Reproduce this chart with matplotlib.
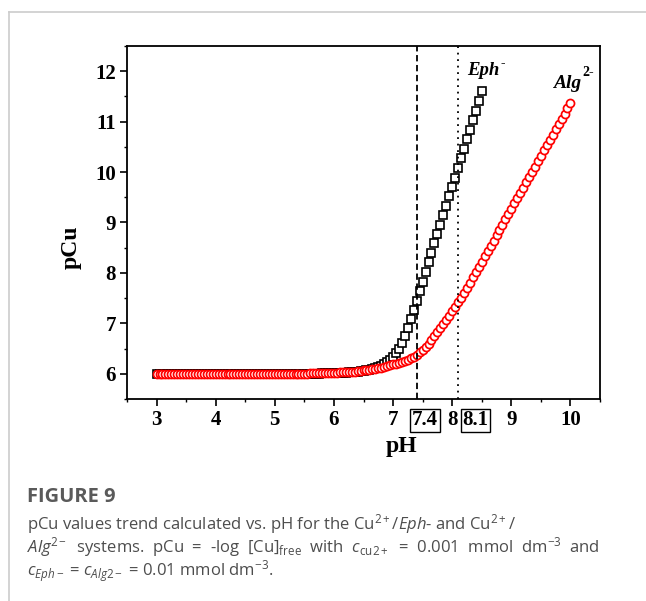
import matplotlib
matplotlib.use("Agg")
import matplotlib.pyplot as plt
from matplotlib.lines import Line2D
from matplotlib.ticker import MultipleLocator
import matplotlib.transforms as mtransforms

# pH grid (same for both systems, Eph- series stops at 8.5)
ph_alg = [
    3.00, 3.05, 3.10, 3.15, 3.20, 3.25, 3.30, 3.35, 3.40, 3.45,
    3.50, 3.55, 3.60, 3.65, 3.70, 3.75, 3.80, 3.85, 3.90, 3.95,
    4.00, 4.05, 4.10, 4.15, 4.20, 4.25, 4.30, 4.35, 4.40, 4.45,
    4.50, 4.55, 4.60, 4.65, 4.70, 4.75, 4.80, 4.85, 4.90, 4.95,
    5.00, 5.05, 5.10, 5.15, 5.20, 5.25, 5.30, 5.35, 5.40, 5.45,
    5.50, 5.55, 5.60, 5.65, 5.70, 5.75, 5.80, 5.85, 5.90, 5.95,
    6.00, 6.05, 6.10, 6.15, 6.20, 6.25, 6.30, 6.35, 6.40, 6.45,
    6.50, 6.55, 6.60, 6.65, 6.70, 6.75, 6.80, 6.85, 6.90, 6.95,
    7.00, 7.05, 7.10, 7.15, 7.20, 7.25, 7.30, 7.35, 7.40, 7.45,
    7.50, 7.55, 7.60, 7.65, 7.70, 7.75, 7.80, 7.85, 7.90, 7.95,
    8.00, 8.05, 8.10, 8.15, 8.20, 8.25, 8.30, 8.35, 8.40, 8.45,
    8.50, 8.55, 8.60, 8.65, 8.70, 8.75, 8.80, 8.85, 8.90, 8.95,
    9.00, 9.05, 9.10, 9.15, 9.20, 9.25, 9.30, 9.35, 9.40, 9.45,
    9.50, 9.55, 9.60, 9.65, 9.70, 9.75, 9.80, 9.85, 9.90, 9.95,
    10.00,
]

pcu_alg = [
    6.00, 6.00, 6.00, 6.00, 6.00, 6.00, 6.00, 6.00, 6.00, 6.00,
    6.00, 6.00, 6.00, 6.00, 6.00, 6.00, 6.00, 6.00, 6.00, 6.00,
    6.00, 6.00, 6.00, 6.00, 6.00, 6.00, 6.00, 6.00, 6.00, 6.00,
    6.00, 6.00, 6.00, 6.00, 6.00, 6.00, 6.00, 6.00, 6.00, 6.00,
    6.00, 6.00, 6.00, 6.00, 6.00, 6.00, 6.00, 6.00, 6.00, 6.00,
    6.00, 6.00, 6.01, 6.01, 6.01, 6.01, 6.01, 6.02, 6.02, 6.02,
    6.02, 6.02, 6.03, 6.03, 6.03, 6.04, 6.04, 6.04, 6.05, 6.06,
    6.07, 6.07, 6.08, 6.09, 6.10, 6.11, 6.12, 6.14, 6.16, 6.17,
    6.19, 6.20, 6.22, 6.24, 6.26, 6.28, 6.31, 6.34, 6.38, 6.43,
    6.48, 6.54, 6.60, 6.67, 6.74, 6.82, 6.90, 6.98, 7.06, 7.15,
    7.24, 7.33, 7.42, 7.51, 7.61, 7.71, 7.81, 7.91, 8.01, 8.12,
    8.22, 8.33, 8.43, 8.54, 8.64, 8.75, 8.85, 8.96, 9.06, 9.17,
    9.27, 9.38, 9.48, 9.59, 9.69, 9.80, 9.90, 10.01, 10.11, 10.22,
    10.32, 10.43, 10.53, 10.64, 10.74, 10.85, 10.95, 11.06, 11.16, 11.27,
    11.37,
]

pcu_eph = [
    6.00, 6.00, 6.00, 6.00, 6.00, 6.00, 6.00, 6.00, 6.00, 6.00,
    6.00, 6.00, 6.00, 6.00, 6.00, 6.00, 6.00, 6.00, 6.00, 6.00,
    6.00, 6.00, 6.00, 6.00, 6.00, 6.00, 6.00, 6.00, 6.00, 6.00,
    6.00, 6.00, 6.00, 6.00, 6.00, 6.00, 6.00, 6.00, 6.00, 6.00,
    6.00, 6.00, 6.00, 6.00, 6.00, 6.00, 6.00, 6.00, 6.00, 6.00,
    6.00, 6.00, 6.00, 6.00, 6.00, 6.00, 6.01, 6.01, 6.01, 6.01,
    6.01, 6.01, 6.02, 6.02, 6.02, 6.03, 6.03, 6.04, 6.04, 6.05,
    6.06, 6.07, 6.08, 6.09, 6.11, 6.13, 6.16, 6.19, 6.23, 6.28,
    6.33, 6.41, 6.50, 6.61, 6.74, 6.90, 7.08, 7.26, 7.45, 7.64,
    7.83, 8.02, 8.21, 8.40, 8.59, 8.77, 8.96, 9.14, 9.33, 9.52,
    9.71, 9.89, 10.08, 10.27, 10.46, 10.65, 10.84, 11.03, 11.22, 11.41,
    11.60,
]
ph_eph = ph_alg[:len(pcu_eph)]

ph_marks = [7.4, 8.1]
x_ticks = [3, 4, 5, 6, 7, 8, 9, 10]
y_ticks = [6, 7, 8, 9, 10, 11, 12]

serif = "Liberation Serif"
plt.rcParams["mathtext.fontset"] = "custom"
plt.rcParams["mathtext.rm"] = "Open Sans"
plt.rcParams["mathtext.it"] = "Open Sans:italic"

W, H = 646, 601
fig = plt.figure(figsize=(W / 100, H / 100), dpi=100)
ax = fig.add_axes([127 / W, 1 - 399 / H, (600 - 127) / W, (399 - 46) / H])

ax.plot(ph_eph, pcu_eph, ls="none", marker="s", ms=5.4, mew=1.2,
        mec="black", mfc="white", zorder=2)
ax.plot(ph_alg, pcu_alg, ls="none", marker="o", ms=5.8, mew=1.25,
        mec="#ff0000", mfc="white", zorder=2.5)

ax.axvline(ph_marks[0], color="black", lw=1.3, ls=(0, (3.5, 2)), zorder=3)
ax.axvline(ph_marks[1], color="black", lw=1.3, ls=(0, (1, 2.6)), zorder=3)

ax.set_xlim(2.5, 10.5)
ax.set_ylim(5.5, 12.5)
ax.set_xticks(x_ticks)
ax.set_yticks(y_ticks)
ax.xaxis.set_minor_locator(MultipleLocator(0.5))
ax.yaxis.set_minor_locator(MultipleLocator(0.5))
ax.tick_params(which="major", direction="out", length=5, width=1.2, pad=3)
ax.tick_params(which="minor", direction="out", length=2.5, width=1.0)
for lab in ax.get_xticklabels() + ax.get_yticklabels():
    lab.set_fontfamily(serif)
    lab.set_fontweight("bold")
    lab.set_fontsize(15)
for sp in ax.spines.values():
    sp.set_linewidth(1.3)

ax.set_xlabel("pH", fontfamily=serif, fontweight="bold", fontsize=17)
ax.set_ylabel("pCu", fontfamily=serif, fontweight="bold", fontsize=17)
ax.xaxis.set_label_coords(0.58, -0.105)
ax.yaxis.set_label_coords(-0.095, 0.43)
ax.xaxis.label.set_va("top")

# boxed pH values under the axis
trans = mtransforms.blended_transform_factory(ax.transData, ax.transAxes)
for xc, s in [(7.54, "7.4"), (8.39, "8.1")]:
    ax.text(xc, -0.06, s, transform=trans, ha="center", va="center",
            fontfamily=serif, fontweight="bold", fontsize=15,
            bbox=dict(boxstyle="square,pad=0.08", fc="white", ec="black", lw=1.0))

# series labels
ax.text(8.25, 11.93, "Eph", fontfamily=serif, fontweight="bold", fontstyle="italic",
        fontsize=13.5, ha="left", va="baseline")
ax.text(8.82, 12.17, "-", fontfamily=serif, fontweight="bold", fontsize=9.5,
        ha="left", va="center")
ax.text(9.70, 11.66, "Alg", fontfamily=serif, fontweight="bold", fontstyle="italic",
        fontsize=14, ha="left", va="baseline")
ax.text(10.20, 11.97, "2-", fontfamily=serif, fontweight="bold", fontsize=10,
        ha="left", va="center")

# page frame lines
fig.add_artist(Line2D([9 / W, 1], [1 - 12 / H, 1 - 12 / H], color="#cccccc", lw=1.2))
fig.add_artist(Line2D([9 / W, 9 / W], [0, 1 - 12 / H], color="#cccccc", lw=1.2))

# caption
cap = "Open Sans"
fig.text(27 / W, 1 - 497 / H, "FIGURE 9", fontfamily=cap, fontweight="bold",
         fontsize=14.5, color="#5a5a5a", va="center")
lines = [
    r"pCu values trend calculated vs. pH for the Cu$^{2+}$/$Eph$- and Cu$^{2+}$/",
    r"$Alg$$^{2-}$  systems.  pCu  =  -log  [Cu]$_{\rm free}$  with  $c$$_{\rm cu2+}$  =  0.001  mmol  dm$^{-3}$  and",
    r"$c_{Eph-}$ = $c_{Alg2-}$ = 0.01 mmol dm$^{-3}$.",
]
for i, t in enumerate(lines):
    fig.text(27 / W, 1 - (524 + 23.5 * i) / H, t, fontfamily=cap, fontsize=12,
             color="#4d4d4d", va="center")

fig.savefig("out.png", dpi=100)
